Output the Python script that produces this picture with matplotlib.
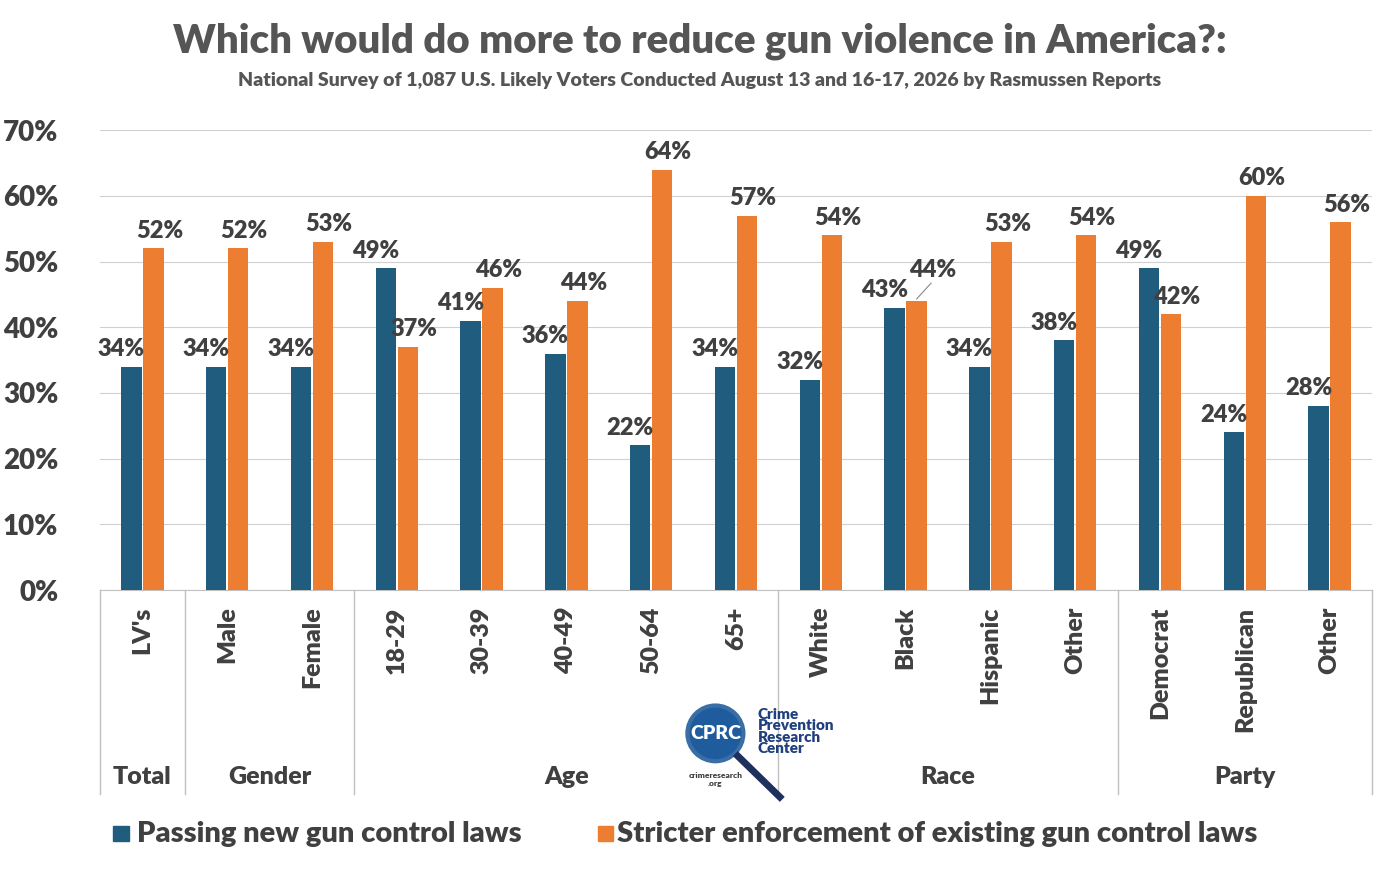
import matplotlib.pyplot as plt
import numpy as np
from matplotlib.patches import Ellipse

plt.rcParams['font.family'] = ['Lato', 'DejaVu Sans']
plt.rcParams['font.weight'] = 'heavy'

categories = ["LV's", "Male", "Female", "18-29", "30-39", "40-49", "50-64", "65+",
              "White", "Black", "Hispanic", "Other", "Democrat", "Republican", "Other"]
new_laws = [34, 34, 34, 49, 41, 36, 22, 34, 32, 43, 34, 38, 49, 24, 28]
enforcement = [52, 52, 53, 37, 46, 44, 64, 57, 54, 44, 53, 54, 42, 60, 56]
groups = [("Total", 0, 1), ("Gender", 1, 3), ("Age", 3, 8), ("Race", 8, 12), ("Party", 12, 15)]

blue = "#1F5C7E"
orange = "#ED7D31"
dark = "#404040"
bw = "heavy"

fig = plt.figure(figsize=(14, 8.71), dpi=100)
ax = fig.add_axes([0.0714, 0.3226, 0.9086, 0.528])
x = np.arange(len(categories))
w = 0.24
ax.bar(x - 0.13, new_laws, w, color=blue, zorder=3)
ax.bar(x + 0.13, enforcement, w, color=orange, zorder=3)

for i in x:
    ax.text(i - 0.25, new_laws[i] + 1, f"{new_laws[i]}%", ha="center", va="bottom",
            fontsize=17, fontweight=bw, color=dark)
    if categories[i] == "Black":
        ax.text(i + 0.32, enforcement[i] + 3, f"{enforcement[i]}%", ha="center", va="bottom",
                fontsize=17, fontweight=bw, color=dark)
        ax.plot([i + 0.13, i + 0.3], [enforcement[i] + 0.3, enforcement[i] + 2.7], color="#888888", lw=0.8)
    else:
        ax.text(i + 0.2, enforcement[i] + 1, f"{enforcement[i]}%", ha="center", va="bottom",
                fontsize=17, fontweight=bw, color=dark)

ax.set_xlim(-0.5, len(categories) - 0.5)
ax.set_ylim(0, 70)
ax.set_yticks(range(0, 71, 10))
ax.set_yticklabels([f"{v}%" for v in range(0, 71, 10)], fontsize=20, fontweight=bw, color=dark)
ax.yaxis.grid(True, color="#d0d0d0", zorder=0)
ax.set_xticks([])
for s in ["top", "right", "left"]:
    ax.spines[s].set_visible(False)
ax.spines["bottom"].set_color("#c0c0c0")
ax.tick_params(axis="y", length=0, pad=30)

# category labels and group separators below the axis
for i, c in enumerate(categories):
    ax.text(i, -2.5, c, rotation=90, ha="center", va="top", fontsize=18,
            fontweight=bw, color=dark, clip_on=False)
for name, a, b in groups:
    ax.plot([a - 0.5, a - 0.5], [0, -31], color="#c0c0c0", lw=1, clip_on=False)
    ax.text((a + b - 1) / 2, -28.5, name, ha="center", va="center", fontsize=18,
            fontweight=bw, color=dark, clip_on=False)
ax.plot([14.5, 14.5], [0, -31], color="#c0c0c0", lw=1, clip_on=False)

fig.text(0.5, 0.953, "Which would do more to reduce gun violence in America?:", ha="center",
         va="center", fontsize=29, fontweight=bw, color="#555555")
fig.text(0.5, 0.908, "National Survey of 1,087 U.S. Likely Voters Conducted August 13 and 16-17, 2026 by Rasmussen Reports",
         ha="center", va="center", fontsize=14, fontweight=bw, color="#555555")

# logo
fig.patches.append(Ellipse((0.511, 0.158), 0.04, 0.064, transform=fig.transFigure, facecolor="#1F5C9E",
                           edgecolor="#3a6ea5", lw=3))
fig.patches.append(plt.Line2D([0.527, 0.557], [0.132, 0.085], transform=fig.transFigure,
                              color="#1F2F5E", lw=5))
fig.text(0.511, 0.158, "CPRC", ha="center", va="center", fontsize=14, fontweight=bw, color="white")
fig.text(0.541, 0.16, "Crime\nPrevention\nResearch\nCenter", ha="left", va="center", fontsize=11,
         color="#1F3F7E", linespacing=0.85, fontweight=bw)
fig.text(0.511, 0.105, "crimeresearch\n.org", ha="center", va="center", fontsize=6, fontweight=bw, color=dark)

# legend
fig.patches.append(plt.Rectangle((0.081, 0.034), 0.011, 0.018, transform=fig.transFigure, color=blue))
fig.text(0.098, 0.043, "Passing new gun control laws", va="center", fontsize=21, fontweight=bw, color=dark)
fig.patches.append(plt.Rectangle((0.427, 0.034), 0.011, 0.018, transform=fig.transFigure, color=orange))
fig.text(0.441, 0.043, "Stricter enforcement of existing gun control laws", va="center", fontsize=21,
         fontweight=bw, color=dark)

fig.savefig("out.png")
